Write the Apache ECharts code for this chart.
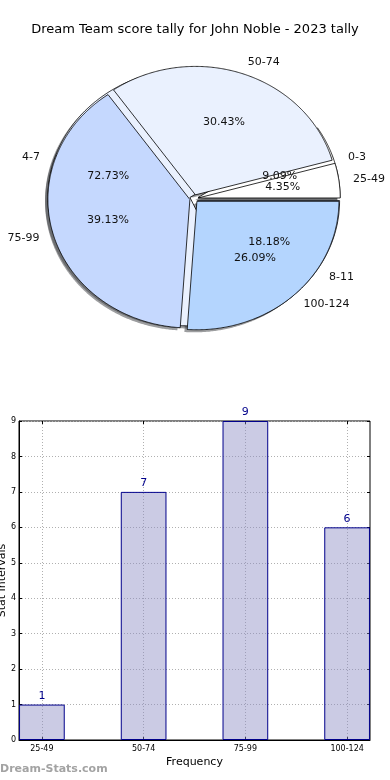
<!DOCTYPE html>
<html><head><meta charset="utf-8">
<script src="https://cdn.jsdelivr.net/npm/echarts@6/dist/echarts.min.js"></script>
<style>html,body{margin:0;padding:0;background:#fff}#c{width:390px;height:780px}</style>
</head><body><div id="c"></div>
<script>
// ---------- data ----------
const chartTitle = 'Dream Team score tally for John Noble - 2023 tally';
const innerLabels = ['0-3', '4-7', '8-11'];
const innerCounts = [1, 8, 2];
const outerLabels = ['25-49', '50-74', '75-99', '100-124'];
const outerCounts = [1, 7, 9, 6];
const barCategories = ['25-49', '50-74', '75-99', '100-124'];
const barValues = [1, 7, 9, 6];
const barPositions = [0, 1, 2, 3];
const xAxisName = 'Frequency';
const yAxisName = 'Stat Intervals';
const watermark = 'Dream-Stats.com';

// ---------- styles ----------
const sliceColors = ['#ffffff', '#eaf1fe', '#c5d8fe', '#b4d5fe'];
const EXPLODE = 0.03;
const FONT = '"DejaVu Sans", sans-serif';

function buildSlices(counts) {
  const total = counts.reduce((a, b) => a + b, 0);
  let acc = 0;
  return counts.map(c => {
    const s = acc / total * 360; acc += c; const e = acc / total * 360;
    return [s, e, c / total * 100];
  });
}
const innerSlices = buildSlices(innerCounts);
const outerSlices = buildSlices(outerCounts);

function wedgeRender(shadow) {
  return function (params, api) {
    const s = api.value(0) * Math.PI / 180, e = api.value(1) * Math.PI / 180;
    const m = (s + e) / 2;
    let cx = EXPLODE * Math.cos(m), cy = EXPLODE * Math.sin(m);
    if (shadow) { cx -= 0.02; cy -= 0.02; }
    const pts = [api.coord([cx, cy])];
    const n = Math.max(4, Math.ceil((e - s) / (Math.PI / 360)));
    for (let k = 0; k <= n; k++) {
      const t = s + (e - s) * k / n;
      pts.push(api.coord([cx + Math.cos(t), cy + Math.sin(t)]));
    }
    return {
      type: 'polygon', shape: { points: pts },
      style: shadow ? { fill: 'rgba(60,62,66,0.5)' }
        : { fill: sliceColors[params.dataIndex], stroke: '#000', lineWidth: 0.8 }
    };
  };
}
function labelRender(names) {
  return function (params, api) {
    const s = api.value(0) * Math.PI / 180, e = api.value(1) * Math.PI / 180;
    const m = (s + e) / 2;
    const c = Math.cos(m), sn = Math.sin(m);
    const ex = EXPLODE * c, ey = EXPLODE * sn;
    const p1 = api.coord([ex + 1.1 * c, ey + 1.1 * sn]);
    const p2 = api.coord([ex + 0.6 * c, ey + 0.6 * sn]);
    return {
      type: 'group', children: [
        { type: 'text', x: p1[0], y: p1[1], style: { text: names[params.dataIndex], fill: '#111', font: '11px ' + FONT, align: c >= 0 ? 'left' : 'right', verticalAlign: 'middle' } },
        { type: 'text', x: p2[0], y: p2[1], style: { text: api.value(2).toFixed(2) + '%', fill: '#111', font: '11px ' + FONT, align: 'center', verticalAlign: 'middle' } }
      ]
    };
  };
}

const gridLine = { show: true, lineStyle: { color: '#b0b0b0', type: [1, 2] } };
const chart = echarts.init(document.getElementById('c'), null, { renderer: 'canvas' });
chart.setOption({
  animation: false,
  backgroundColor: '#fff',
  title: { text: chartTitle, left: 'center', top: 18, textStyle: { fontSize: 13, fontWeight: 'normal', color: '#000', fontFamily: FONT } },
  graphic: [{ type: 'text', left: 0, top: 764, style: { text: watermark, fill: '#a3a3a3', font: 'bold 11px ' + FONT } }],
  grid: [
    { left: 9.4, width: 369.2, top: 31.5, height: 334, show: false, outerBoundsMode: 'none', containLabel: false },
    { left: 19, right: 20, top: 421, bottom: 40, show: true, borderColor: '#000', borderWidth: 1, backgroundColor: 'transparent', outerBoundsMode: 'none', containLabel: false }
  ],
  xAxis: [
    { gridIndex: 0, type: 'value', min: -1.3, max: 1.3, show: false },
    {
      gridIndex: 1, type: 'value', min: -0.225, max: 3.225, position: 'bottom',
      name: xAxisName, nameLocation: 'middle', nameGap: 17, nameMoveOverlap: false,
      nameTextStyle: { fontSize: 11, color: '#000', fontFamily: FONT },
      axisLine: { show: true, onZero: false, lineStyle: { color: '#000' } },
      axisTick: { show: true, inside: true, length: 3, customValues: barPositions, lineStyle: { color: '#000' } },
      axisLabel: { customValues: barPositions, formatter: v => barCategories[Math.round(v)], fontSize: 8, color: '#000', fontFamily: FONT, margin: 5 },
      splitLine: gridLine
    },
    {
      gridIndex: 1, type: 'value', min: -0.225, max: 3.225, position: 'top',
      axisLine: { show: false, onZero: false },
      axisTick: { show: true, inside: true, length: 3, customValues: barPositions, lineStyle: { color: '#000' } },
      axisLabel: { show: false, customValues: barPositions },
      splitLine: { show: false }
    }
  ],
  yAxis: [
    { gridIndex: 0, type: 'value', min: -1.3, max: 1.3, show: false },
    {
      gridIndex: 1, type: 'value', min: 0, max: 9, interval: 1, position: 'left',
      name: yAxisName, nameLocation: 'middle', nameGap: 11, nameMoveOverlap: false,
      nameTextStyle: { fontSize: 11, color: '#000', fontFamily: FONT },
      axisLine: { show: true, onZero: false, lineStyle: { color: '#000' } },
      axisTick: { show: true, inside: true, length: 3, lineStyle: { color: '#000' } },
      axisLabel: { fontSize: 8, color: '#000', fontFamily: FONT, margin: 3 },
      splitLine: gridLine
    },
    {
      gridIndex: 1, type: 'value', min: 0, max: 9, interval: 1, position: 'right',
      axisLine: { show: false, onZero: false },
      axisTick: { show: true, inside: true, length: 3, lineStyle: { color: '#000' } },
      axisLabel: { show: false },
      splitLine: { show: false }
    }
  ],
  series: [
    { type: 'custom', xAxisIndex: 0, yAxisIndex: 0, clip: false, z: 1, data: innerSlices, renderItem: wedgeRender(true) },
    { type: 'custom', xAxisIndex: 0, yAxisIndex: 0, clip: false, z: 1, data: outerSlices, renderItem: wedgeRender(true) },
    { type: 'custom', xAxisIndex: 0, yAxisIndex: 0, clip: false, z: 2, data: innerSlices, renderItem: wedgeRender(false) },
    { type: 'custom', xAxisIndex: 0, yAxisIndex: 0, clip: false, z: 3, data: outerSlices, renderItem: wedgeRender(false) },
    { type: 'custom', xAxisIndex: 0, yAxisIndex: 0, clip: false, z: 4, data: innerSlices, renderItem: labelRender(innerLabels) },
    { type: 'custom', xAxisIndex: 0, yAxisIndex: 0, clip: false, z: 4, data: outerSlices, renderItem: labelRender(outerLabels) },
    {
      type: 'bar', xAxisIndex: 1, yAxisIndex: 1, barWidth: 45.7,
      data: barPositions.map((x, i) => [x, barValues[i]]),
      itemStyle: { color: 'rgba(140,140,196,0.45)', borderColor: '#00008b', borderWidth: 1 },
      label: { show: true, position: 'top', distance: 3, color: '#00008b', fontSize: 11, fontFamily: FONT }
    }
  ]
});
</script>
</body></html>
